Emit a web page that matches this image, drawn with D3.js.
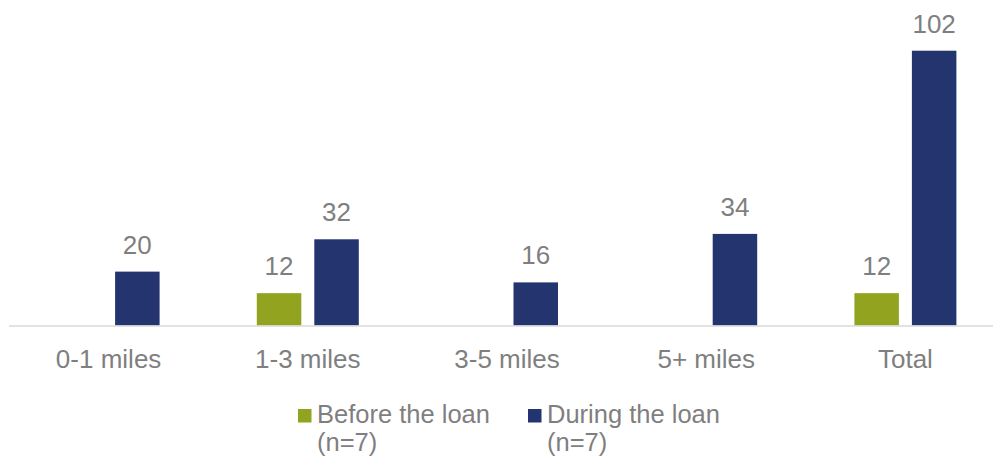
<!DOCTYPE html>
<html>
<head>
<meta charset="utf-8">
<script src="https://cdn.jsdelivr.net/npm/d3@7"></script>
<style>
  html, body { margin: 0; padding: 0; background: #ffffff; }
  svg { display: block; font-family: "Liberation Sans", Arial, sans-serif; }
</style>
</head>
<body>
<svg id="chart" width="993" height="459"></svg>
<script>
// Trips by distance, before vs. during the loan
const categories = ["0-1 miles", "1-3 miles", "3-5 miles", "5+ miles", "Total"];
const seriesNames = ["Before the loan", "During the loan"];
const beforeValues = [null, 12, null, null, 12];
const duringValues = [20, 32, 16, 34, 102];
const legendLabels = [["Before the loan", "(n=7)"], ["During the loan", "(n=7)"]];
const seriesColors = ["#92a41f", "#24346f"];

const svg = d3.select("#chart");
const textColor = "#7f7f7f";
const fontSize = 26;

const x0 = d3.scaleBand()
  .domain(categories)
  .range([9, 1005])
  .paddingInner(0.488)
  .paddingOuter(0.244);

const x1 = d3.scaleBand()
  .domain(seriesNames)
  .range([0, x0.bandwidth()])
  .paddingInner(0.226)
  .paddingOuter(0);

const y = d3.scaleLinear()
  .domain([0, 120])
  .range([325.5, 325.5 - 120 * 2.694]);

const rows = categories.map((c, i) => ({
  category: c,
  values: [
    { series: seriesNames[0], value: beforeValues[i], color: seriesColors[0] },
    { series: seriesNames[1], value: duringValues[i], color: seriesColors[1] }
  ].filter(d => d.value != null)
}));

const groups = svg.append("g")
  .selectAll("g")
  .data(rows)
  .join("g")
  .attr("transform", d => `translate(${x0(d.category)},0)`);

groups.selectAll("rect")
  .data(d => d.values)
  .join("rect")
  .attr("x", d => x1(d.series))
  .attr("y", d => y(d.value))
  .attr("width", x1.bandwidth())
  .attr("height", d => y(0) - y(d.value))
  .attr("fill", d => d.color);

groups.selectAll("text.value")
  .data(d => d.values)
  .join("text")
  .attr("class", "value")
  .attr("x", d => x1(d.series) + x1.bandwidth() / 2)
  .attr("y", d => y(d.value) - 18)
  .attr("text-anchor", "middle")
  .attr("font-size", fontSize)
  .attr("fill", textColor)
  .text(d => d.value);

// Category axis: baseline rule plus labels, no ticks
const xAxis = d3.axisBottom(x0).tickSize(0).tickPadding(0);
const axisG = svg.append("g")
  .attr("transform", `translate(0,${y(0) + 0.5})`)
  .call(xAxis);
axisG.select(".domain")
  .attr("stroke", "#d9d9d9")
  .attr("stroke-width", 1.5)
  .attr("d", `M9,0H1005`);
axisG.selectAll(".tick text")
  .attr("font-size", fontSize)
  .attr("font-family", "Liberation Sans, Arial, sans-serif")
  .attr("fill", textColor)
  .attr("dy", null)
  .attr("y", 42);

// Legend: swatch plus a two-line label per series
const legendX = [298, 528];
const legendBaselines = [423, 451];
const legend = svg.append("g")
  .selectAll("g")
  .data(seriesNames)
  .join("g")
  .attr("transform", (d, i) => `translate(${legendX[i]},0)`);

legend.append("rect")
  .attr("x", 0)
  .attr("y", 409)
  .attr("width", 13.5)
  .attr("height", 13.5)
  .attr("fill", (d, i) => seriesColors[i]);

legend.selectAll("text")
  .data((d, i) => legendLabels[i])
  .join("text")
  .attr("x", 19)
  .attr("y", (d, j) => legendBaselines[j])
  .attr("font-size", 25.5)
  .attr("fill", textColor)
  .text(d => d);
</script>
</body>
</html>
